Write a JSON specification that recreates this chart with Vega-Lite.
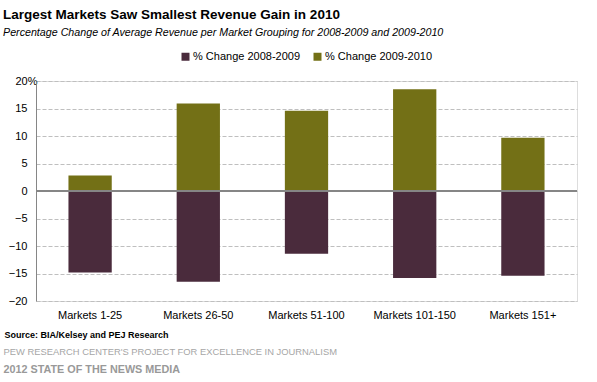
{
  "$schema": "https://vega.github.io/schema/vega-lite/v6.json",
  "width": 541,
  "height": 220,
  "autosize": {"type": "none"},
  "padding": {"left": 36, "top": 81, "right": 20, "bottom": 81},
  "background": "white",
  "title": {
    "text": "Largest Markets  Saw Smallest Revenue  Gain in 2010",
    "subtitle": "Percentage Change of Average Revenue per Market Grouping for 2008-2009 and 2009-2010",
    "anchor": "start",
    "frame": "group",
    "dx": -33,
    "offset": 13,
    "font": "Liberation Sans",
    "fontSize": 13.5,
    "fontWeight": "bold",
    "color": "#000000",
    "subtitleFont": "Liberation Sans",
    "subtitleFontSize": 10.7,
    "subtitleFontStyle": "italic",
    "subtitleColor": "#000000",
    "subtitlePadding": 7
  },
  "data": {
    "values": [
      {"market": "Markets 1-25", "period": "% Change 2008-2009", "value": -14.8},
      {"market": "Markets 1-25", "period": "% Change 2009-2010", "value": 2.8},
      {"market": "Markets 26-50", "period": "% Change 2008-2009", "value": -16.5},
      {"market": "Markets 26-50", "period": "% Change 2009-2010", "value": 15.9},
      {"market": "Markets 51-100", "period": "% Change 2008-2009", "value": -11.4},
      {"market": "Markets 51-100", "period": "% Change 2009-2010", "value": 14.6},
      {"market": "Markets 101-150", "period": "% Change 2008-2009", "value": -15.8},
      {"market": "Markets 101-150", "period": "% Change 2009-2010", "value": 18.5},
      {"market": "Markets 151+", "period": "% Change 2008-2009", "value": -15.4},
      {"market": "Markets 151+", "period": "% Change 2009-2010", "value": 9.7}
    ]
  },
  "layer": [
    {
      "mark": {"type": "bar"},
      "encoding": {
        "x": {
          "field": "market",
          "type": "nominal",
          "scale": {"domain": ["Markets 1-25", "Markets 26-50", "Markets 51-100", "Markets 101-150", "Markets 151+"], "paddingInner": 0.6, "paddingOuter": 0.3},
          "axis": {
            "orient": "bottom",
            "title": "Source: BIA/Kelsey and PEJ Research",
            "labelAngle": 0,
            "ticks": false,
            "domain": false,
            "grid": false,
            "labelPadding": 8,
            "labelFont": "Liberation Sans",
            "labelFontSize": 11,
            "labelColor": "#000000",
            "titleFont": "Liberation Sans",
            "titleFontSize": 9,
            "titleFontWeight": "bold",
            "titleColor": "#000000",
            "titleAlign": "left",
            "titleAnchor": "start",
            "titleBaseline": "alphabetic",
            "titleX": -32,
            "titleY": 36
          }
        },
        "y": {
          "field": "value",
          "type": "quantitative",
          "scale": {"domain": [-20, 20], "nice": false},
          "axis": {
            "title": null,
            "values": [-20, -15, -10, -5, 0, 5, 10, 15, 20],
            "grid": true,
            "gridDash": [4, 2],
            "gridColor": "#BFBFBF",
            "domain": true,
            "domainColor": "#868686",
            "ticks": false,
            "tickSize": 0,
            "labelPadding": {"condition": {"test": "datum.value == 20", "value": -1}, "value": 9},
            "labelFont": "Liberation Sans",
            "labelFontSize": 11,
            "labelColor": "#000000",
            "labelOverlap": false,
            "labelExpr": "datum.value == 20 ? '20%' : datum.label"
          }
        },
        "color": {
          "field": "period",
          "type": "nominal",
          "scale": {"domain": ["% Change 2008-2009", "% Change 2009-2010"], "range": ["#4A2B3C", "#737016"]},
          "legend": {
            "orient": "none",
            "legendX": 144,
            "legendY": -30,
            "direction": "horizontal",
            "title": null,
            "symbolType": "square",
            "symbolSize": 64,
            "symbolStrokeWidth": 0,
            "labelFont": "Liberation Sans",
            "labelFontSize": 11,
            "labelColor": "#000000",
            "labelOffset": 2,
            "columnPadding": 11
          }
        }
      }
    },
    {
      "mark": {"type": "rule", "color": "#868686", "strokeWidth": 1.5},
      "encoding": {
        "y": {
          "datum": 0,
          "type": "quantitative",
          "scale": {"domain": [-20, 20], "nice": false},
          "axis": {
            "title": null,
            "values": [-20, -15, -10, -5, 0, 5, 10, 15, 20],
            "grid": true,
            "gridDash": [4, 2],
            "gridColor": "#BFBFBF",
            "domain": true,
            "domainColor": "#868686",
            "ticks": false,
            "tickSize": 0,
            "labelPadding": {"condition": {"test": "datum.value == 20", "value": -1}, "value": 9},
            "labelFont": "Liberation Sans",
            "labelFontSize": 11,
            "labelColor": "#000000",
            "labelOverlap": false,
            "labelExpr": "datum.value == 20 ? '20%' : datum.label"
          }
        }
      }
    },
    {
      "mark": {"type": "point", "opacity": 0},
      "encoding": {
        "x": {
          "field": "market",
          "type": "nominal",
          "scale": {"domain": ["Markets 1-25", "Markets 26-50", "Markets 51-100", "Markets 101-150", "Markets 151+"], "paddingInner": 0.6, "paddingOuter": 0.3},
          "axis": {
            "orient": "bottom",
            "title": "PEW RESEARCH CENTER'S PROJECT FOR EXCELLENCE IN JOURNALISM",
            "labels": false,
            "ticks": false,
            "domain": false,
            "grid": false,
            "titleFont": "Liberation Sans",
            "titleFontSize": 9.4,
            "titleFontWeight": "normal",
            "titleColor": "#A6A6A6",
            "titleAlign": "left",
            "titleAnchor": "start",
            "titleBaseline": "alphabetic",
            "titleX": -33,
            "titleY": 53
          }
        }
      }
    },
    {
      "mark": {"type": "point", "opacity": 0},
      "encoding": {
        "x": {
          "field": "market",
          "type": "nominal",
          "scale": {"domain": ["Markets 1-25", "Markets 26-50", "Markets 51-100", "Markets 101-150", "Markets 151+"], "paddingInner": 0.6, "paddingOuter": 0.3},
          "axis": {
            "orient": "bottom",
            "title": "2012 STATE OF THE NEWS MEDIA",
            "labels": false,
            "ticks": false,
            "domain": false,
            "grid": false,
            "titleFont": "Liberation Sans",
            "titleFontSize": 10.8,
            "titleFontWeight": "bold",
            "titleColor": "#999999",
            "titleAlign": "left",
            "titleAnchor": "start",
            "titleBaseline": "alphabetic",
            "titleX": -33,
            "titleY": 71
          }
        }
      }
    }
  ],
  "resolve": {"axis": {"x": "independent"}}
}
